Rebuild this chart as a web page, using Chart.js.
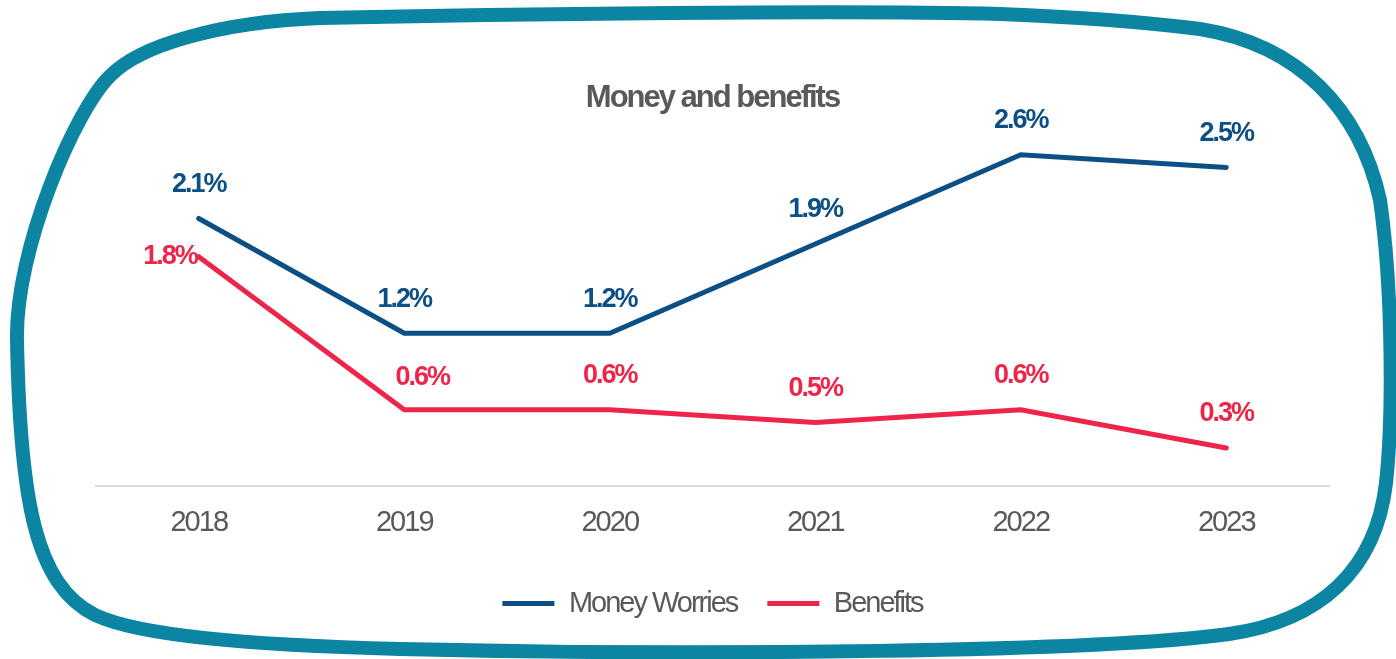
<!DOCTYPE html>
<html>
<head>
<meta charset="utf-8">
<script src="https://cdn.jsdelivr.net/npm/chart.js@4.4.0/dist/chart.umd.min.js"></script>
<style>
  html, body { margin: 0; padding: 0; background: #fff; }
  #wrap { width: 1396px; height: 659px; position: relative; }
</style>
</head>
<body>
<div id="wrap"><canvas id="chart"></canvas></div>
<script>
// DATA
const years = ["2018", "2019", "2020", "2021", "2022", "2023"];
const moneyWorries = [2.1, 1.2, 1.2, 1.9, 2.6, 2.5];
const benefits = [1.8, 0.6, 0.6, 0.5, 0.6, 0.3];

const FONT = "'Liberation Sans', Arial, sans-serif";
const GREY = "#595959";
const BLUE = "#0b4f84";
const RED = "#ee2449";
const TEAL = "#0b85a2";

// No narrow face installed, so tighten the letters on every text the chart draws
const narrowText = {
  id: "narrowText",
  beforeUpdate(chart) { chart.ctx.letterSpacing = "-2px"; },
  beforeDraw(chart) { chart.ctx.letterSpacing = "-2px"; },
};

// Rounded hand-drawn frame around the whole chart
const framePlugin = {
  id: "frame",
  afterDraw(chart) {
    const ctx = chart.ctx;
    ctx.save();
    ctx.strokeStyle = TEAL;
    ctx.lineWidth = 14;
    ctx.lineJoin = "round";
    ctx.beginPath();
    ctx.moveTo(17, 340);
    ctx.bezierCurveTo(15, 250, 75, 110, 110, 76);
    ctx.bezierCurveTo(140, 45, 220, 22, 320, 18);
    ctx.bezierCurveTo(500, 14, 850, 10, 1000, 14);
    ctx.bezierCurveTo(1100, 18, 1160, 24, 1200, 29);
    ctx.bezierCurveTo(1300, 45, 1360, 110, 1380, 200);
    ctx.bezierCurveTo(1393, 290, 1393, 420, 1386, 483);
    ctx.bezierCurveTo(1376, 570, 1320, 621, 1229, 634);
    ctx.bezierCurveTo(1100, 652, 700, 656, 400, 649);
    ctx.bezierCurveTo(250, 645, 140, 636, 95, 615);
    ctx.bezierCurveTo(35, 585, 20, 500, 17, 340);
    ctx.closePath();
    ctx.stroke();
    ctx.restore();
  },
};

// Value labels next to each point
const valueLabels = {
  id: "valueLabels",
  afterDatasetsDraw(chart, args, opts) {
    const ctx = chart.ctx;
    ctx.save();
    ctx.font = "bold 27px " + FONT;
    ctx.textBaseline = "middle";
    chart.data.datasets.forEach((ds, di) => {
      const meta = chart.getDatasetMeta(di);
      meta.data.forEach((pt, i) => {
        const shift = opts.shifts[di + ":" + i];
        let dx = 0, dy = -34, align = "center";
        if (shift) {
          dx = shift.dx; dy = shift.dy; align = shift.align || "center";
        }
        ctx.fillStyle = ds.borderColor;
        ctx.textAlign = align;
        ctx.fillText(ds.data[i].toFixed(1) + "%", pt.x + dx, pt.y + dy);
      });
    });
    ctx.restore();
  },
};

const config = {
  type: "line",
  data: {
    labels: years,
    datasets: [
      {
        label: "Money Worries",
        data: moneyWorries,
        borderColor: BLUE,
        backgroundColor: BLUE,
        borderWidth: 5,
        borderCapStyle: "round",
        pointRadius: 0,
        tension: 0,
      },
      {
        label: "Benefits",
        data: benefits,
        borderColor: RED,
        backgroundColor: RED,
        borderWidth: 5,
        borderCapStyle: "round",
        pointRadius: 0,
        tension: 0,
      },
    ],
  },
  options: {
    responsive: true,
    maintainAspectRatio: false,
    animation: false,
    layout: {
      padding: { top: 60, left: 96, right: 67, bottom: 31 },
    },
    scales: {
      x: {
        offset: true,
        grid: { display: false, drawTicks: false },
        border: { display: true, color: "#d9d9d9", width: 2 },
        ticks: {
          color: GREY,
          padding: 19,
          font: { family: FONT, size: 29 },
        },
      },
      y: {
        display: false,
        min: 0,
        max: 2.8,
      },
    },
    plugins: {
      title: {
        display: true,
        text: "Money and benefits",
        color: GREY,
        font: { family: FONT, size: 31, weight: "bold" },
        padding: { top: 20, bottom: 12 },
      },
      legend: {
        position: "bottom",
        labels: {
          color: GREY,
          font: { family: FONT, size: 29 },
          usePointStyle: true,
          pointStyle: "line",
          pointStyleWidth: 52,
          padding: 30,
        },
      },
      tooltip: { enabled: false },
      valueLabels: {
        shifts: {
          "1:0": { dx: -2, dy: 0, align: "right" },
          "1:1": { dx: 18, dy: -32 },
        },
      },
    },
  },
  plugins: [narrowText, framePlugin, valueLabels],
};

const chart = new Chart(document.getElementById("chart"), config);
</script>
</body>
</html>
